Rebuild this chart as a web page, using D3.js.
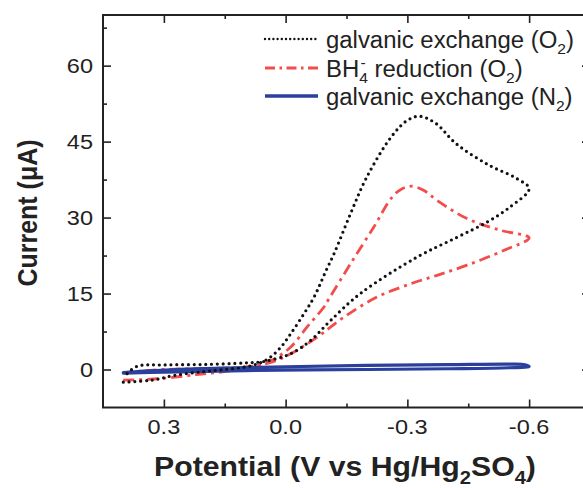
<!DOCTYPE html>
<html>
<head>
<meta charset="utf-8">
<script src="https://cdn.jsdelivr.net/npm/d3@7"></script>
<style>
body { margin: 0; background: #fff; }
text { font-family: "Liberation Sans", Arial, sans-serif; fill: #222; }
</style>
</head>
<body>
<svg width="583" height="488"></svg>
<script>
// tick labels
var potentialTicks = [0.3, 0.0, -0.3, -0.6];
var potentialMinor = [0.15, -0.15, -0.45];
var currentTicks = [0, 15, 30, 45, 60];
var currentMinor = [7.5, 22.5, 37.5, 52.5, 67.5];

// galvanic exchange (O2): sweep to -0.6 V and back
var galvO2Potential = [0.40, 0.33, 0.27, 0.20, 0.15, 0.10, 0.07, 0.04, 0.012, -0.012, -0.045, -0.07, -0.10, -0.12, -0.16, -0.20, -0.26, -0.30, -0.33, -0.37, -0.42, -0.50, -0.57, -0.60,
    -0.553, -0.496, -0.422, -0.324, -0.184, -0.111, -0.061, -0.012, 0.053, 0.10, 0.20, 0.30, 0.367, 0.40];
var galvO2Current = [-2.5, -2.1, -1.1, -0.4, 0.0, 0.5, 1.1, 2.3, 4.4, 7.0, 11.0, 14.3, 19.6, 23.0, 30.8, 38.0, 45.9, 49.2, 50.0, 48.6, 44.6, 40.4, 37.7, 35.7,
    32.1, 29.1, 26.1, 22.2, 15.0, 9.7, 5.7, 3.1, 1.6, 1.3, 1.0, 0.9, 0.6, -1.6];

// BH4- reduction (O2)
var bhO2Potential = [0.40, 0.31, 0.22, 0.155, 0.10, 0.07, 0.03, -0.012, -0.053, -0.094, -0.107, -0.16, -0.217, -0.262, -0.285, -0.31, -0.34, -0.373, -0.447, -0.529, -0.60,
    -0.537, -0.447, -0.373, -0.307, -0.225, -0.143, -0.078, -0.012, 0.037, 0.10, 0.20, 0.30, 0.40];
var bhO2Current = [-2.1, -1.8, -1.0, -0.45, 0.2, 0.8, 2.0, 4.4, 8.4, 12.3, 14.0, 20.9, 28.1, 34.0, 35.6, 36.2, 35.4, 33.4, 29.8, 27.5, 26.0,
    23.5, 20.6, 18.6, 16.9, 14.3, 10.3, 6.4, 3.1, 1.4, 0.5, 0.2, 0.0, -0.6];

// galvanic exchange (N2)
var galvN2Potential = [0.40, 0.30, 0.10, -0.20, -0.40, -0.55, -0.60, -0.59, -0.55, -0.40, -0.20, 0.00, 0.20, 0.35, 0.40];
var galvN2Current = [-0.7, -0.5, -0.2, 0.0, 0.15, 0.35, 0.6, 0.95, 1.05, 0.95, 0.8, 0.55, 0.2, -0.3, -0.6];

var svg = d3.select("svg");
var padL = 103, padR = 590, padT = 15, padB = 407.5;

var x = d3.scaleLinear().domain([0.45, -0.75]).range([padL, padR]);
var y = d3.scaleLinear().domain([-7.5, 70]).range([padB, padT]);

function zip(vs, is) {
    return vs.map(function (v, i) { return [v, is[i]]; });
}

var line = d3.line()
    .x(function (d) { return x(d[0]); })
    .y(function (d) { return y(d[1]); })
    .curve(d3.curveCatmullRom.alpha(0.5));

// axes, ticks point inward
function drawTicks(axis, tr, vals, size) {
    var g = svg.append("g").attr("transform", tr)
        .call(axis.tickValues(vals).tickSize(-size).tickFormat(""));
    g.select(".domain").remove();
    g.selectAll("line").attr("stroke", "#222").attr("stroke-width", 1.6);
}
drawTicks(d3.axisBottom(x), "translate(0," + padB + ")", potentialTicks, 8);
drawTicks(d3.axisBottom(x), "translate(0," + padB + ")", potentialMinor, 4);
drawTicks(d3.axisTop(x), "translate(0," + padT + ")", potentialTicks, 8);
drawTicks(d3.axisTop(x), "translate(0," + padT + ")", potentialMinor, 4);
drawTicks(d3.axisLeft(y), "translate(" + padL + ",0)", currentTicks, 8);
drawTicks(d3.axisLeft(y), "translate(" + padL + ",0)", currentMinor, 4);
drawTicks(d3.axisRight(y), "translate(" + padR + ",0)", currentTicks, 8);
drawTicks(d3.axisRight(y), "translate(" + padR + ",0)", currentMinor, 4);

svg.append("rect")
    .attr("x", padL).attr("y", padT)
    .attr("width", padR - padL).attr("height", padB - padT)
    .attr("fill", "none").attr("stroke", "#222").attr("stroke-width", 2);

// curves
svg.append("path")
    .datum(zip(bhO2Potential, bhO2Current))
    .attr("d", line)
    .attr("fill", "none").attr("stroke", "#f24c4c").attr("stroke-width", 2.8)
    .attr("stroke-dasharray", "11,5,3,5");

svg.append("path")
    .datum(zip(galvN2Potential, galvN2Current))
    .attr("d", line)
    .attr("fill", "none").attr("stroke", "#2b3f9c").attr("stroke-width", 3.2)
    .attr("stroke-linecap", "round").attr("stroke-linejoin", "round");

svg.append("path")
    .datum(zip(galvO2Potential, galvO2Current))
    .attr("d", line)
    .attr("fill", "none").attr("stroke", "#111").attr("stroke-width", 3.2)
    .attr("stroke-linecap", "round").attr("stroke-dasharray", "0,5.8");

// tick labels (figure text is a bit wide)
var sx = 1.12;
svg.selectAll(".xl").data(potentialTicks).enter().append("text")
    .attr("class", "xl")
    .attr("transform", function (d) { return "translate(" + x(d) + ",434) scale(" + sx + ",1)"; })
    .attr("text-anchor", "middle").style("font-size", "21px")
    .text(function (d) { return d3.format(".1f")(d).replace("−", "-"); });

svg.selectAll(".yl").data(currentTicks).enter().append("text")
    .attr("class", "yl")
    .attr("transform", function (d) { return "translate(93," + (y(d) + 7.5) + ") scale(" + sx + ",1)"; })
    .attr("text-anchor", "end").style("font-size", "21px")
    .text(function (d) { return d; });

// axis titles
var xt = svg.append("text")
    .attr("transform", "translate(345,476) scale(" + sx + ",1)")
    .attr("text-anchor", "middle").style("font-size", "27px").style("font-weight", "bold");
xt.append("tspan").text("Potential (V vs Hg/Hg");
xt.append("tspan").attr("dy", 8).style("font-size", "18px").text("2");
xt.append("tspan").attr("dy", -8).text("SO");
xt.append("tspan").attr("dy", 8).style("font-size", "18px").text("4");
xt.append("tspan").attr("dy", -8).text(")");

svg.append("text")
    .attr("transform", "translate(37,213) scale(1.14,1) rotate(-90)")
    .attr("text-anchor", "middle").style("font-size", "25px").style("font-weight", "bold")
    .text("Current (μA)");

// legend
var legendY = [39, 68, 96];
var lg = svg.append("g");
lg.append("line").attr("x1", 265).attr("x2", 318).attr("y1", legendY[0]).attr("y2", legendY[0])
    .attr("stroke", "#111").attr("stroke-width", 2.4).attr("stroke-linecap", "round").attr("stroke-dasharray", "0,4.2");
lg.append("line").attr("x1", 265).attr("x2", 318).attr("y1", legendY[1]).attr("y2", legendY[1])
    .attr("stroke", "#f24c4c").attr("stroke-width", 2.8).attr("stroke-dasharray", "10,4.5,2.5,4.5");
lg.append("line").attr("x1", 265).attr("x2", 318).attr("y1", legendY[2]).attr("y2", legendY[2])
    .attr("stroke", "#2b3f9c").attr("stroke-width", 3.5);

function legendText(yy) {
    return lg.append("text")
        .attr("transform", "translate(326," + (yy + 9) + ") scale(1.04,1)")
        .style("font-size", "23px");
}
var t1 = legendText(legendY[0]);
t1.append("tspan").text("galvanic exchange (O");
t1.append("tspan").attr("dy", 6).style("font-size", "15px").text("2");
t1.append("tspan").attr("dy", -6).text(")");

var t2 = legendText(legendY[1]);
t2.append("tspan").text("BH");
t2.append("tspan").attr("dy", 6).style("font-size", "15px").text("4");
t2.append("tspan").attr("dx", -7).attr("dy", -15).style("font-size", "15px").text("-");
t2.append("tspan").attr("dx", 2).attr("dy", 9).text(" reduction (O");
t2.append("tspan").attr("dy", 6).style("font-size", "15px").text("2");
t2.append("tspan").attr("dy", -6).text(")");

var t3 = legendText(legendY[2]);
t3.append("tspan").text("galvanic exchange (N");
t3.append("tspan").attr("dy", 6).style("font-size", "15px").text("2");
t3.append("tspan").attr("dy", -6).text(")");
</script>
</body>
</html>
